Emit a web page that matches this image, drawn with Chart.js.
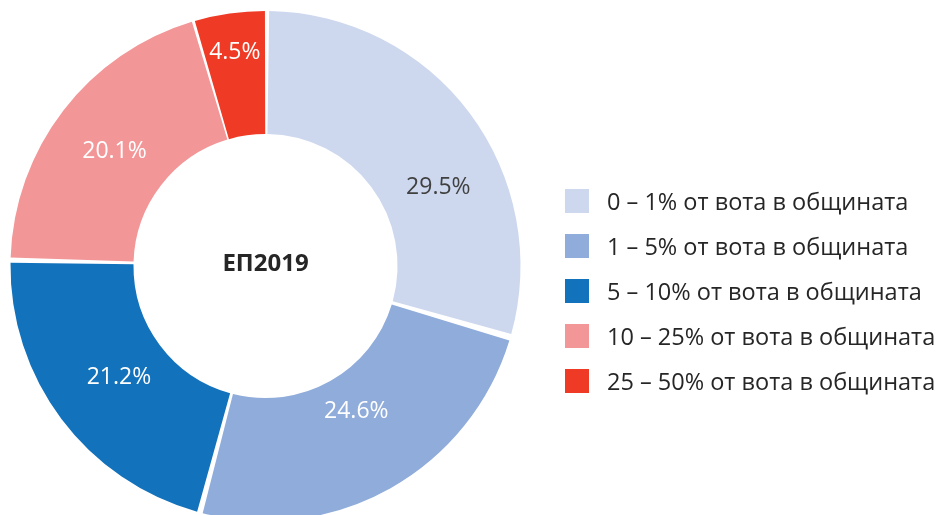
<!DOCTYPE html>
<html>
<head>
<meta charset="utf-8">
<script src="https://cdn.jsdelivr.net/npm/chart.js@4/dist/chart.umd.min.js"></script>
<style>
  html, body { margin: 0; padding: 0; background: #ffffff; overflow: hidden; }
  #wrap { position: relative; width: 937px; height: 515px; overflow: hidden; }
</style>
</head>
<body>
<div id="wrap"><canvas id="c" width="937" height="515"></canvas></div>
<script>
const categories = [
  "0 – 1% от вота в общината",
  "1 – 5% от вота в общината",
  "5 – 10% от вота в общината",
  "10 – 25% от вота в общината",
  "25 – 50% от вота в общината"
];
const shares = [29.5, 24.6, 21.2, 20.1, 4.5];
const centerTitle = "ЕП2019";
const sliceColors = ["#CDD8EE", "#8FACDA", "#1272BC", "#F39697", "#EF3B25"];
const labelColors = ["#404040", "#ffffff", "#ffffff", "#ffffff", "#ffffff"];

const FONT = "'Open Sans', 'Noto Sans', sans-serif";

const labelPlugin = {
  id: 'sliceLabels',
  afterDatasetsDraw(chart, args, opts) {
    const ctx = chart.ctx;
    const meta = chart.getDatasetMeta(0);
    const nudges = opts.nudges || [];
    ctx.save();
    ctx.font = "23px " + FONT;
    ctx.textAlign = 'center';
    ctx.textBaseline = 'middle';
    meta.data.forEach((arc, i) => {
      const p = arc.getProps(['x','y','startAngle','endAngle','innerRadius','outerRadius'], true);
      const n = nudges[i] || {da: 0, rf: 0.5};
      const a = (p.startAngle + p.endAngle) / 2 + n.da * Math.PI / 180;
      const r = p.innerRadius + (p.outerRadius - p.innerRadius) * n.rf;
      ctx.fillStyle = labelColors[i];
      ctx.fillText(shares[i].toFixed(1) + '%', p.x + Math.cos(a) * r, p.y + Math.sin(a) * r + 2);
    });
    const a0 = meta.data[0];
    ctx.font = "bold 24px " + FONT;
    ctx.fillStyle = '#262626';
    ctx.fillText(centerTitle, a0.x, a0.y - 2);
    ctx.restore();
  }
};

const legendPlugin = {
  id: 'sideLegend',
  afterDraw(chart, args, opts) {
    const ctx = chart.ctx;
    ctx.save();
    ctx.font = "23.5px " + FONT;
    ctx.textAlign = 'left';
    ctx.textBaseline = 'middle';
    chart.data.labels.forEach((lab, i) => {
      const cy = opts.top + i * opts.step;
      ctx.fillStyle = chart.data.datasets[0].backgroundColor[i];
      ctx.fillRect(opts.boxX, cy - opts.box / 2, opts.box, opts.box);
      ctx.fillStyle = '#262626';
      ctx.fillText(lab, opts.textX, cy + 2);
    });
    ctx.restore();
  }
};

new Chart(document.getElementById('c'), {
  type: 'doughnut',
  data: {
    labels: categories,
    datasets: [{
      data: shares,
      backgroundColor: sliceColors,
      borderWidth: 0,
      spacing: 6,
      clip: false
    }]
  },
  options: {
    responsive: false,
    animation: false,
    radius: 252,
    cutout: '51.2%',
    layout: { padding: { left: 0, right: 406, top: 17, bottom: 0 } },
    plugins: {
      legend: { display: false },
      tooltip: { enabled: false },
      sliceLabels: { nudges: [ {da: 12, rf: 0.5}, {da: -3, rf: 0.33}, {da: 0, rf: 0.44}, {da: 0, rf: 0.5}, {da: 0, rf: 0.72} ] },
      sideLegend: { top: 201, step: 45, box: 24, boxX: 565, textX: 607 }
    }
  },
  plugins: [labelPlugin, legendPlugin]
});
</script>
</body>
</html>
